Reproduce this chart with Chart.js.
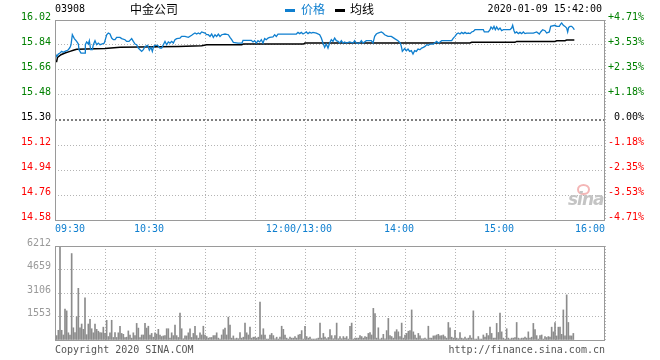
<!DOCTYPE html>
<html><head><meta charset="utf-8">
<script src="https://cdn.jsdelivr.net/npm/chart.js@4.4.1/dist/chart.umd.min.js"></script>
<style>
html,body{margin:0;padding:0;background:#fff;}
#wrap{position:relative;width:660px;height:360px;overflow:hidden;font-family:"DejaVu Sans Mono",monospace;}
canvas{position:absolute;left:0;}
.t{position:absolute;white-space:nowrap;font-size:10px;line-height:12px;}
.c{position:absolute;white-space:nowrap;font-family:"Noto Sans CJK SC",sans-serif;font-size:12px;line-height:14px;}
.bar{position:absolute;width:10px;height:3px;}
</style></head><body>
<div id="wrap">
<canvas id="pc" width="660" height="236" style="top:0"></canvas>
<canvas id="vc" width="660" height="124" style="top:236px"></canvas>
<div class="t" style="left:55px;top:3px;color:#000">03908</div>
<div class="c" style="left:130px;top:2px;color:#000">中金公司</div>
<div class="bar" style="left:285px;top:9px;background:#0f7fcf"></div>
<div class="c" style="left:301px;top:2px;color:#0f7fcf">价格</div>
<div class="bar" style="left:335px;top:9px;background:#000"></div>
<div class="c" style="left:350px;top:2px;color:#000">均线</div>
<div class="t" style="right:58px;top:3px;color:#000">2020-01-09 15:42:00</div>
<div class="t" style="left:55px;top:344px;color:#555">Copyright 2020 SINA.COM</div>
<div class="t" style="right:55px;top:344px;color:#555">http://finance.sina.com.cn</div>
<div style="position:absolute;left:577px;top:184px;width:9px;height:7px;border:2px solid #f4b6b6;border-radius:50%;"></div>
<div style="position:absolute;left:568px;top:189px;font:italic bold 17px 'DejaVu Sans',sans-serif;color:#c4c4c4;letter-spacing:-1px;">sina</div>
</div>
<script>
const prevClose = 15.30;
const priceTicks = [16.02, 15.84, 15.66, 15.48, 15.30, 15.12, 14.94, 14.76, 14.58];
const gridMinutes = [0,30,60,90,120,150,180,210,240,270,300,330];
const timeTickMinutes = [0, 60, 150, 210, 270, 330];
const timeTickLabels = ['09:30', '10:30  ', '12:00/13:00  ', '14:00  ', '15:00  ', '16:00'];
const volTicks = [0, 1553, 3106, 4659, 6212];

const priceMinutes = [0,1,2,3,4,5,6,7,8,9,9.6,10.4,11.6,13,14,14.4,15.6,18,18.2,19,20,20.6,21.4,22.4,23,24,25,26,27,28,29.6,31,32,33,34,35,36,37,39,40,42,43,44.4,46,47,48,49,50,51,52,53,54,55.6,56.6,57.6,58.4,59.2,60,61.6,63,64,65,66,67,68,69,70,71,72,73,75,76,78,80,82,83,84,85,86,87,88,90,91,92,93,94,95,96,97,98,99,100,102,104,105,106,107,
109.8,112.2,112.8,117.8,118.8,119.8,120.8,121.8,122.8,123.8,124.8,125.8,126.8,127.8,128.8,130.8,131.8,132.8,133.8,144.8,145.8,146.8,147.8,148.8,149.8,150.8,151.8,152.8,153.8,154.8,156.8,158.8,159.8,160.8,161.8,162.8,163.8,164.8,165.8,166.8,167.8,168.8,169.8,170.8,171.8,172.8,173.8,174.8,176.8,178.8,179.8,180.8,182.8,183.8,184.8,186.8,189.8,190.8,191.8,192.8,193.8,195.8,196.8,197.8,199.8,201.8,203.8,205.8,207.2,207.8,208.4,209.8,210.8,211.8,212.8,213.8,214.8,215.8,216.8,217.8,218.8,
219,220,221,222,223,224,225,227,229,230,231,232,238,239,240,241,242,243,244,245,246,247,248,249,250,251,252,257,257.6,260,261,261.6,262.6,263.4,264.2,265,266,267,268,269,273,274,274.6,275.4,276,277,278,279,280,281,282,283,287,289,290.6,291.4,292.6,294,295,296.6,297.4,300,301,302.6,303.4,304,305,306,307,307.6,308.2,309,310,311,311.6];
const priceValues = [15.782,15.758,15.775,15.782,15.794,15.787,15.794,15.799,15.806,15.823,15.842,15.914,15.886,15.866,15.847,15.806,15.782,15.782,15.842,15.862,15.847,15.871,15.806,15.806,15.842,15.871,15.842,15.854,15.842,15.847,15.854,15.914,15.926,15.919,15.890,15.878,15.878,15.895,15.895,15.886,15.878,15.866,15.866,15.886,15.866,15.847,15.842,15.818,15.806,15.794,15.806,15.830,15.838,15.802,15.823,15.794,15.830,15.838,15.838,15.818,15.818,15.842,15.866,15.842,15.862,15.854,15.866,15.854,15.878,15.886,15.890,15.902,15.902,15.895,15.910,15.919,15.926,15.919,15.926,15.919,15.934,15.926,15.914,15.914,15.902,15.919,15.895,15.914,15.902,15.919,15.902,15.914,15.919,15.914,15.895,15.878,15.859,
15.854,15.854,15.874,15.874,15.862,15.871,15.854,15.871,15.862,15.878,15.854,15.886,15.878,15.890,15.895,15.898,15.914,15.902,15.919,15.919,15.931,15.922,15.931,15.919,15.926,15.934,15.922,15.931,15.926,15.931,15.926,15.914,15.890,15.854,15.823,15.847,15.818,15.854,15.878,15.866,15.890,15.871,15.866,15.854,15.871,15.854,15.862,15.854,15.862,15.854,15.871,15.854,15.854,15.871,15.854,15.871,15.871,15.854,15.902,15.919,15.926,15.934,15.926,15.914,15.902,15.902,15.886,15.871,15.854,15.830,15.794,15.814,15.799,15.811,15.794,15.799,15.775,15.799,15.794,15.811,15.806,
15.806,15.818,15.823,15.830,15.842,15.838,15.847,15.847,15.866,15.854,15.862,15.871,15.871,15.890,15.902,15.919,15.926,15.919,15.931,15.922,15.931,15.922,15.926,15.922,15.934,15.938,15.950,15.950,15.934,15.934,15.950,15.970,15.955,15.974,15.950,15.970,15.950,15.962,15.943,15.950,15.950,15.962,15.982,15.943,15.926,15.934,15.922,15.931,15.922,15.934,15.922,15.926,15.926,15.934,15.919,15.934,15.950,15.943,15.926,15.934,15.974,15.982,15.974,15.974,15.991,15.998,15.982,15.974,15.962,15.934,15.967,15.974,15.974,15.962,15.950];

const avgMinutes = [0,1,1.5,3.6,6,9,11,13,30,39,74,88,91,112,113,149,150,249,250,276,277,300,301,306,307,311.6];
const avgValues = [15.722,15.722,15.751,15.770,15.782,15.794,15.802,15.809,15.814,15.823,15.830,15.835,15.842,15.842,15.847,15.847,15.854,15.854,15.859,15.859,15.866,15.866,15.871,15.871,15.876,15.876];

const volStartMinute = 1;
const volValues = [290,642,6200,642,331,2049,1925,476,331,5713,807,497,1532,3416,807,1056,704,2795,352,1056,1366,745,476,1056,704,580,497,476,849,435,1304,228,476,1304,166,497,166,476,911,435,373,166,186,600,331,124,476,290,1097,787,166,331,331,1097,787,911,331,435,186,476,393,704,331,228,269,290,745,745,124,476,290,994,290,166,1780,745,83,269,269,476,745,166,435,911,290,124,476,331,911,331,228,124,166,166,290,290,476,124,62,331,683,787,331,1511,994,124,269,83,124,83,
497,124,186,1118,476,331,849,124,186,186,124,186,2505,331,745,331,62,62,331,435,290,83,186,62,186,911,704,331,124,62,186,124,124,228,124,331,373,621,62,911,228,124,186,62,62,62,83,124,1118,124,435,186,83,166,683,290,83,290,1118,83,228,83,228,124,228,62,911,1118,62,124,124,124,290,228,124,228,186,435,497,331,2091,1739,124,807,62,124,373,83,621,1428,290,228,124,538,683,538,228,1118,124,331,435,580,621,1987,538,331,124,435,269,83,
83,124,62,911,124,124,269,269,331,373,269,290,331,228,124,1159,807,186,124,642,124,83,497,124,83,186,83,124,290,124,1925,62,62,228,62,62,331,186,435,290,849,435,124,124,1097,497,1780,538,124,62,745,124,62,124,124,166,1159,124,83,124,124,186,124,538,124,186,1097,683,290,62,290,331,62,228,166,228,186,849,538,1159,269,849,849,373,1987,269,2981,1159,269,269,435];

const GREEN = '#008000', RED = '#ff0000', BLUE = '#0f7fcf', GRID = '#b4b4b4';
const MONO = {family: '"DejaVu Sans Mono", monospace', size: 10};

function pxy(ms, vs){ return ms.map((m,i)=>({x:m, y:vs[i]})); }
function colorFor(v){ if (v > prevClose + 1e-6) return GREEN; if (v < prevClose - 1e-6) return RED; return '#000'; }
function pct(v){ const p = (v - prevClose) / prevClose * 100; if (Math.abs(p) < 1e-9) return ' 0.00%'; return (p > 0 ? '+' : '') + p.toFixed(2) + '%'; }

const framePlugin = {
  id: 'frame',
  afterDatasetsDraw(chart){
    const a = chart.chartArea, c = chart.ctx;
    c.save(); c.strokeStyle = '#9a9a9a'; c.lineWidth = 1;
    c.strokeRect(a.left + 0.5, a.top + 0.5, a.right - a.left - 1, a.bottom - a.top);
    c.restore();
  }
};

Chart.defaults.animation = false;

new Chart(document.getElementById('pc'), {
  type: 'line',
  data: {
    datasets: [
      {data: pxy([0, 330], [prevClose, prevClose]), borderColor: '#000', borderWidth: 1, borderDash: [2, 2], pointRadius: 0, yAxisID: 'y'},
      {data: pxy(priceMinutes, priceValues), borderColor: BLUE, borderWidth: 1.3, pointRadius: 0, tension: 0, yAxisID: 'y'},
      {data: pxy(avgMinutes, avgValues), borderColor: '#000', borderWidth: 1.5, pointRadius: 0, tension: 0, yAxisID: 'y'}
    ]
  },
  options: {
    responsive: false, devicePixelRatio: 1,
    layout: {padding: {top: 20, left: 0, right: 0, bottom: 0}},
    plugins: {legend: {display: false}, tooltip: {enabled: false}},
    scales: {
      x: {
        type: 'linear', min: 0, max: 330, position: 'bottom',
        afterBuildTicks: s => { s.ticks = gridMinutes.map(v => ({value: v})); },
        afterFit: s => { s.height = 16; },
        grid: {color: GRID, lineWidth: 1, drawTicks: false},
        border: {display: false, dash: [1, 2]},
        ticks: {
          autoSkip: false, maxRotation: 0, padding: 3, align: 'inner', color: BLUE, font: MONO,
          callback: v => { const i = timeTickMinutes.indexOf(v); return i >= 0 ? timeTickLabels[i] : ''; }
        }
      },
      y: {
        position: 'left', min: 14.58, max: 16.02,
        afterBuildTicks: s => { s.ticks = priceTicks.map(v => ({value: v})); },
        afterFit: s => { s.width = 55; },
        grid: {color: c => Math.abs(c.tick.value - prevClose) < 1e-6 ? 'rgba(0,0,0,0)' : GRID, lineWidth: 1, drawTicks: false},
        border: {display: false, dash: [1, 2]},
        ticks: {padding: 4, labelOffset: -3, font: MONO, color: c => colorFor(c.tick.value), callback: v => v.toFixed(2)}
      },
      yR: {
        position: 'right', min: 14.58, max: 16.02,
        afterBuildTicks: s => { s.ticks = priceTicks.map(v => ({value: v})); },
        afterFit: s => { s.width = 55; },
        grid: {display: false, drawTicks: false},
        border: {display: false},
        ticks: {padding: 3, crossAlign: 'near', labelOffset: -3, font: MONO, color: c => colorFor(c.tick.value), callback: v => pct(v)}
      }
    }
  },
  plugins: [framePlugin]
});

new Chart(document.getElementById('vc'), {
  type: 'bar',
  data: {
    datasets: [{
      data: volValues.map((v, i) => ({x: volStartMinute + i, y: v})),
      backgroundColor: '#8c8c8c', borderWidth: 0, barThickness: 1
    }]
  },
  options: {
    responsive: false, devicePixelRatio: 1,
    layout: {padding: {top: 4, left: 0, right: 55, bottom: 0}},
    plugins: {legend: {display: false}, tooltip: {enabled: false}},
    scales: {
      x: {
        type: 'linear', min: 0, max: 330, offset: false,
        afterBuildTicks: s => { s.ticks = gridMinutes.map(v => ({value: v})); },
        afterFit: s => { s.height = 20; },
        grid: {color: GRID, lineWidth: 1, drawTicks: false, offset: false},
        border: {display: false, dash: [1, 2]},
        ticks: {display: false}
      },
      y: {
        min: 0, max: 6212,
        afterBuildTicks: s => { s.ticks = volTicks.map(v => ({value: v})); },
        afterFit: s => { s.width = 55; },
        grid: {color: GRID, lineWidth: 1, drawTicks: false},
        border: {display: false, dash: [1, 2]},
        ticks: {padding: 4, labelOffset: -3, font: MONO, color: '#999999', callback: v => v === 0 ? '' : String(v)}
      }
    }
  },
  plugins: [framePlugin]
});
</script>
</body></html>
